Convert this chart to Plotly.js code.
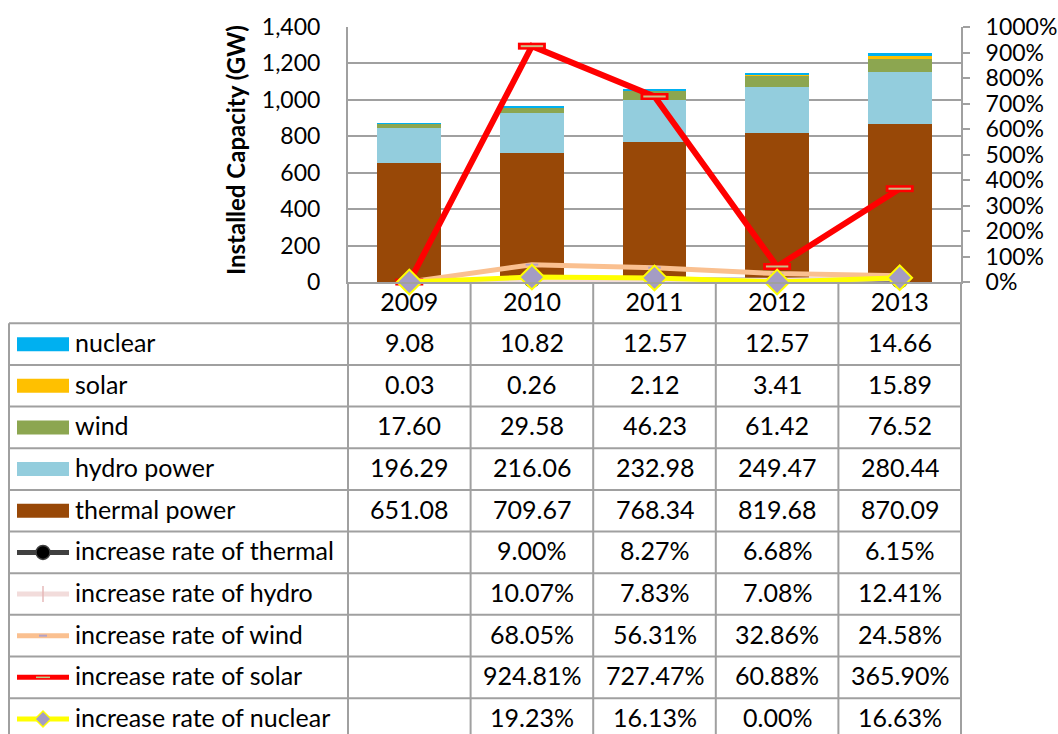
<!DOCTYPE html>
<html>
<head>
<meta charset="utf-8">
<script src="https://cdn.plot.ly/plotly-3.0.1.min.js"></script>
<style>html,body{margin:0;padding:0;background:#fff;}#chart{width:1058px;height:734px;}</style>
</head>
<body>
<div id="chart"></div>
<script>
// ---- data ----
var years = ['2009', '2010', '2011', '2012', '2013'];
var nuclear = [9.08, 10.82, 12.57, 12.57, 14.66];
var solar = [0.03, 0.26, 2.12, 3.41, 15.89];
var wind = [17.60, 29.58, 46.23, 61.42, 76.52];
var hydro = [196.29, 216.06, 232.98, 249.47, 280.44];
var thermal = [651.08, 709.67, 768.34, 819.68, 870.09];
var rateThermal = [null, 9.00, 8.27, 6.68, 6.15];
var rateHydro = [null, 10.07, 7.83, 7.08, 12.41];
var rateWind = [null, 68.05, 56.31, 32.86, 24.58];
var rateSolar = [null, 924.81, 727.47, 60.88, 365.90];
var rateNuclear = [null, 19.23, 16.13, 0.00, 16.63];
var capTicks = [0, 200, 400, 600, 800, 1000, 1200, 1400];
var rateTicks = [0, 100, 200, 300, 400, 500, 600, 700, 800, 900, 1000];

// ---- styles / geometry ----
var FONT = 'Lato, "Open Sans", sans-serif';
var FS = 23;   // axis tick labels
var TFS = 25;  // data table text
var W = 1058, H = 734;
var PL = 348, PR = 961, PT = 27, PB = 282;
var GRID = '#a0a0a0';
function X(px) { return (px - PL) / (PR - PL); }
function Y(py) { return (PB - py) / (PB - PT); }
var zeroIfEmpty = function (a) { return a.map(function (v) { return v === null ? 0 : v; }); };

var C = {
  nuclear: '#00B0F0', solar: '#FFC000', wind: '#8CA650', hydro: '#93CDDD', thermal: '#984807',
  rThermal: '#404040', rHydro: '#F2DCDB', rWind: '#FAC090', rSolar: '#FF0000', rNuclear: '#FFFF00'
};

var traces = [];
function bar(name, vals, color) {
  traces.push({ type: 'bar', name: name, x: years, y: vals, marker: { color: color }, yaxis: 'y', hoverinfo: 'y+name' });
}
bar('thermal power', thermal, C.thermal);
bar('hydro power', hydro, C.hydro);
bar('wind', wind, C.wind);
bar('solar', solar, C.solar);
bar('nuclear', nuclear, C.nuclear);

function line(name, vals, color, width, marker) {
  traces.push({ type: 'scatter', mode: 'lines+markers', name: name, x: years, y: zeroIfEmpty(vals),
    yaxis: 'y2', line: { color: color, width: width }, marker: marker, cliponaxis: false });
}
line('increase rate of thermal', rateThermal, C.rThermal, 5, { symbol: 'circle', size: 15, color: '#000', line: { color: '#404040', width: 1.5 } });
line('increase rate of hydro', rateHydro, C.rHydro, 5, { symbol: 'line-ns', size: 14, line: { color: '#E6B9B8', width: 1.5 } });
line('increase rate of wind', rateWind, C.rWind, 5, { symbol: 'line-ew', size: 9, line: { color: '#B3A2C7', width: 2 } });
line('increase rate of solar', rateSolar, C.rSolar, 6, { symbol: 'line-ew', size: 20, line: { color: '#FF0000', width: 7 } });
traces.push({ type: 'scatter', mode: 'markers', x: years, y: zeroIfEmpty(rateSolar), yaxis: 'y2', showlegend: false, hoverinfo: 'skip',
  cliponaxis: false, marker: { symbol: 'line-ew', size: 16, line: { color: '#C9BF87', width: 2 } } });
line('increase rate of nuclear', rateNuclear, C.rNuclear, 5, { symbol: 'diamond', size: 19, color: '#A49CC4', line: { color: '#FFFF00', width: 2 } });

// ---- data table below the chart ----
var shapes = [], annotations = [];
var ROW0 = 323.3, RH = 41.65, TXT_DY = -2;
var tableRows = [
  { label: 'nuclear', vals: nuclear, pct: false, key: 'box', color: C.nuclear },
  { label: 'solar', vals: solar, pct: false, key: 'box', color: C.solar },
  { label: 'wind', vals: wind, pct: false, key: 'box', color: C.wind },
  { label: 'hydro power', vals: hydro, pct: false, key: 'box', color: C.hydro },
  { label: 'thermal power', vals: thermal, pct: false, key: 'box', color: C.thermal },
  { label: 'increase rate of thermal', vals: rateThermal, pct: true, key: 'thermal', color: C.rThermal },
  { label: 'increase rate of hydro', vals: rateHydro, pct: true, key: 'hydro', color: C.rHydro },
  { label: 'increase rate of wind', vals: rateWind, pct: true, key: 'wind', color: C.rWind },
  { label: 'increase rate of solar', vals: rateSolar, pct: true, key: 'solar', color: C.rSolar },
  { label: 'increase rate of nuclear', vals: rateNuclear, pct: true, key: 'nuclear', color: C.rNuclear }
];
var LW = 2;
function hline(x0, x1, py) { shapes.push({ type: 'line', xref: 'paper', yref: 'paper', x0: X(x0), x1: X(x1), y0: Y(py), y1: Y(py), line: { color: GRID, width: LW } }); }
function vline(px, y0, y1) { shapes.push({ type: 'line', xref: 'paper', yref: 'paper', x0: X(px), x1: X(px), y0: Y(y0), y1: Y(y1), line: { color: GRID, width: LW } }); }
for (var k = 0; k < tableRows.length; k++) hline(9, PR, ROW0 + k * RH);
vline(9, ROW0, H + 10);
for (var c = 0; c <= years.length; c++) {
  shapes.push({ type: 'line', xref: 'paper', yref: 'paper', x0: c / years.length, x1: c / years.length, y0: 0, y1: Y(H + 10), line: { color: GRID, width: LW } });
}
tableRows.forEach(function (r, k) {
  var cy = ROW0 + (k + 0.5) * RH;
  var ty = Y(cy + TXT_DY);
  annotations.push({ xref: 'paper', yref: 'paper', x: X(73), y: ty, xanchor: 'left', yanchor: 'middle', text: r.label, showarrow: false, font: { family: FONT, size: TFS, color: '#000' } });
  r.vals.forEach(function (v, i) {
    if (v === null) return;
    annotations.push({ xref: 'x', yref: 'paper', x: i, y: ty, xanchor: 'center', yanchor: 'middle', text: v.toFixed(2) + (r.pct ? '%' : ''), showarrow: false, font: { family: FONT, size: TFS, color: '#000' } });
  });
  if (r.key === 'box') {
    shapes.push({ type: 'rect', xref: 'paper', yref: 'paper', x0: X(17), x1: X(69), y0: Y(cy - 7), y1: Y(cy + 7), fillcolor: r.color, line: { width: 0 } });
  } else {
    shapes.push({ type: 'line', xref: 'paper', yref: 'paper', x0: X(17), x1: X(69), y0: Y(cy), y1: Y(cy), line: { color: r.color, width: 5 } });
    var mx = 43;
    if (r.key === 'thermal') {
      shapes.push({ type: 'circle', xref: 'paper', yref: 'paper', x0: X(mx - 7), x1: X(mx + 7), y0: Y(cy - 7), y1: Y(cy + 7), fillcolor: '#000', line: { color: '#404040', width: 1.5 } });
    } else if (r.key === 'hydro') {
      shapes.push({ type: 'line', xref: 'paper', yref: 'paper', x0: X(mx), x1: X(mx), y0: Y(cy - 8), y1: Y(cy + 8), line: { color: '#E6B9B8', width: 1.5 } });
    } else if (r.key === 'wind') {
      shapes.push({ type: 'line', xref: 'paper', yref: 'paper', x0: X(mx - 4), x1: X(mx + 4), y0: Y(cy), y1: Y(cy), line: { color: '#B3A2C7', width: 2 } });
    } else if (r.key === 'solar') {
      shapes.push({ type: 'line', xref: 'paper', yref: 'paper', x0: X(mx - 7), x1: X(mx + 7), y0: Y(cy), y1: Y(cy), line: { color: '#B5D08A', width: 1.5 } });
    } else if (r.key === 'nuclear') {
      var d = 8;
      shapes.push({ type: 'path', xref: 'paper', yref: 'paper', fillcolor: '#A49CC4', line: { color: '#FFFF00', width: 1.5 },
        path: 'M' + X(mx - d) + ',' + Y(cy) + ' L' + X(mx) + ',' + Y(cy - d) + ' L' + X(mx + d) + ',' + Y(cy) + ' L' + X(mx) + ',' + Y(cy + d) + ' Z' });
    }
  }
});

// y-axis title
annotations.push({ xref: 'paper', yref: 'paper', x: X(235), y: Y(150), xanchor: 'center', yanchor: 'middle', textangle: -90,
  text: '<b>Installed Capacity (GW)</b>', showarrow: false, font: { family: FONT, size: 24, color: '#000', weight: 'bold' } });

var layout = {
  width: W, height: H,
  margin: { l: PL, r: W - PR, t: PT, b: H - PB, pad: 0 },
  paper_bgcolor: '#fff', plot_bgcolor: '#fff',
  barmode: 'stack', bargap: 0.48,
  showlegend: false,
  font: { family: FONT, size: FS, color: '#000' },
  xaxis: { type: 'category', categoryorder: 'array', categoryarray: years, range: [-0.5, years.length - 0.5],
    showgrid: false, showline: true, linecolor: GRID, linewidth: LW,
    ticks: '', tickfont: { family: FONT, size: TFS, color: '#000' }, ticklabelstandoff: -3 },
  yaxis: { range: [0, 1400], tickmode: 'array', tickvals: capTicks, tickformat: ',d', showgrid: true, gridcolor: GRID, gridwidth: LW,
    zeroline: false, showline: true, linecolor: GRID, linewidth: LW, ticks: '', ticklabelstandoff: 21,
    tickfont: { family: FONT, size: FS, color: '#000' } },
  yaxis2: { overlaying: 'y', side: 'right', range: [0, 1000], tickmode: 'array', tickvals: rateTicks,
    ticktext: rateTicks.map(function (v) { return v + '%'; }), showgrid: false,
    zeroline: false, showline: true, linecolor: GRID, linewidth: LW, ticks: 'outside', ticklen: 7, tickcolor: GRID, tickwidth: LW,
    ticklabelstandoff: 11, tickfont: { family: FONT, size: FS, color: '#000' } },
  shapes: shapes,
  annotations: annotations
};

Plotly.newPlot('chart', traces, layout, { displayModeBar: false, staticPlot: true });
</script>
</body>
</html>
